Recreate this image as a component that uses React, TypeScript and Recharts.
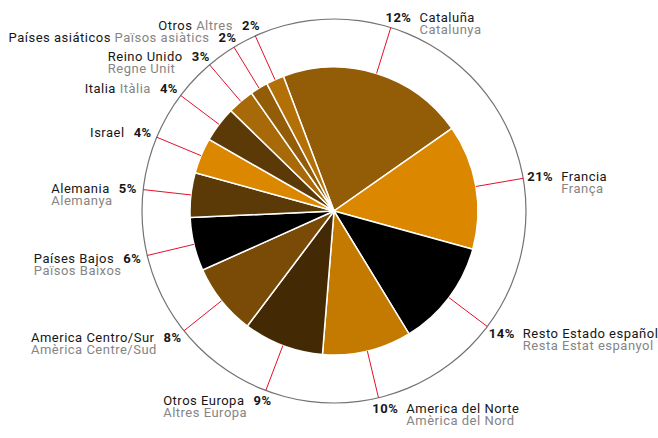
import React from 'react';
import { PieChart, Pie, Cell } from 'recharts';

// Slice shares as drawn (clockwise from the top-left)
const sliceShares = [21, 14, 12, 10, 9, 8, 6, 5, 4, 4, 3, 2, 2];
const sliceColors = ['#935c07', '#db8800', '#000000', '#c47a00', '#432a05', '#7a4a07', '#000000', '#5c3a08', '#db8800', '#5c3a08', '#a86a08', '#935c07', '#b37006'];
// Labels as printed
const namesEs = ['Cataluña', 'Francia', 'Resto Estado español', 'America del Norte', 'Otros Europa', 'America Centro/Sur', 'Países Bajos', 'Alemania', 'Israel', 'Italia', 'Reino Unido', 'Países asiáticos', 'Otros'];
const namesCa = ['Catalunya', 'França', 'Resta Estat espanyol', 'Amèrica del Nord', 'Altres Europa', 'Amèrica Centre/Sud', 'Països Baixos', 'Alemanya', '', 'Itàlia', 'Regne Unit', 'Països asiàtics', 'Altres'];
const labelPct = ['12%', '21%', '14%', '10%', '9%', '8%', '6%', '5%', '4%', '4%', '3%', '2%', '2%'];
const inlineCatalan = [false, false, false, false, false, false, false, false, false, true, false, true, true];

const data = sliceShares.map((v, i) => ({ name: namesEs[i], value: v }));
const ringData = [{ name: 'ring', value: 1 }];

const CX = 334;
const CY = 211;
const PIE_R = 144;
const RING_R = 192;
const START = 110.6;
const FONT = 'Roboto, "Noto Sans", sans-serif';
const FS = 13;
const LS = 0.5;
const LINE_H = 12;
const DARK = '#161616';
const GRAY = '#858585';
const RED = '#e3102c';
const RAD = Math.PI / 180;

let ctx: CanvasRenderingContext2D | null = null;
function measure(text: string, bold: boolean): number {
  if (!ctx) {
    const c = document.createElement('canvas');
    ctx = c.getContext('2d');
  }
  if (!ctx) return text.length * 7;
  ctx.font = `${bold ? 'bold' : 'normal'} ${FS}px Roboto`;
  return ctx.measureText(text).width + LS * text.length;
}

function renderLabel(props: any) {
  const { cx, cy, midAngle, outerRadius, index } = props;
  const ux = Math.cos(-midAngle * RAD);
  const uy = Math.sin(-midAngle * RAD);
  const sx = cx + outerRadius * ux;
  const sy = cy + outerRadius * uy;
  const ex = cx + RING_R * ux;
  const ey = cy + RING_R * uy;
  const right = ux >= 0;
  const baseY = ey + 11 * uy + 4.5;
  const es = namesEs[index];
  const ca = namesCa[index];
  const pct = labelPct[index];
  const inl = inlineCatalan[index];
  const textStyle = { fontFamily: FONT, fontSize: FS, letterSpacing: LS } as any;
  const line = <line x1={sx} y1={sy} x2={ex} y2={ey} stroke={RED} strokeWidth={1} />;
  if (right) {
    const x0 = ex + 13.5 * ux - 9.3;
    const gap = 8;
    const nameX = x0 + measure(pct, true) + gap;
    return (
      <g key={`lbl-${index}`}>
        {line}
        <text x={x0} y={baseY} style={textStyle} fill={DARK}>
          <tspan fontWeight="bold">{pct}</tspan>
          <tspan x={nameX}>{es}</tspan>
          {ca && (
            <tspan x={nameX} dy={LINE_H} fill={GRAY}>
              {ca}
            </tspan>
          )}
        </text>
      </g>
    );
  }
  const xr = ex + 19 * ux + 12.5;
  const gap = 9;
  const pctW = measure(pct, true);
  const pctX = xr - pctW;
  const nameEnd = pctX - gap;
  let startX: number;
  let caX = 0;
  if (inl && ca) {
    const caW = measure(ca, false);
    const spW = measure(' ', false);
    const esW = measure(es, false);
    caX = nameEnd - caW;
    startX = caX - spW - esW;
  } else {
    startX = nameEnd - measure(es, false);
  }
  return (
    <g key={`lbl-${index}`}>
      {line}
      <text x={startX} y={baseY} style={textStyle} fill={DARK}>
        <tspan x={startX}>{es}</tspan>
        {inl && ca && (
          <tspan x={caX} fill={GRAY}>
            {ca}
          </tspan>
        )}
        <tspan x={pctX} fontWeight="bold">
          {pct}
        </tspan>
        {ca && !inl && (
          <tspan x={startX} dy={LINE_H} fill={GRAY}>
            {ca}
          </tspan>
        )}
      </text>
    </g>
  );
}

export default function App() {
  return (
    <div style={{ position: 'absolute', left: 0, top: 0, width: 658, height: 438, background: '#fff' }}>
      <PieChart width={658} height={438} margin={{ top: 0, right: 0, bottom: 0, left: 0 }}>
        <Pie
          data={ringData}
          dataKey="value"
          cx={CX}
          cy={CY}
          innerRadius={RING_R - 0.6}
          outerRadius={RING_R + 0.6}
          startAngle={90}
          endAngle={-270}
          fill="#737373"
          stroke="none"
          isAnimationActive={false}
        />
        <Pie
          data={data}
          dataKey="value"
          cx={CX}
          cy={CY}
          outerRadius={PIE_R}
          startAngle={START}
          endAngle={START - 360}
          stroke="#ffffff"
          strokeWidth={1.5}
          label={renderLabel}
          labelLine={false}
          isAnimationActive={false}
        >
          {data.map((d, i) => (
            <Cell key={`c-${i}`} fill={sliceColors[i]} />
          ))}
        </Pie>
      </PieChart>
    </div>
  );
}
